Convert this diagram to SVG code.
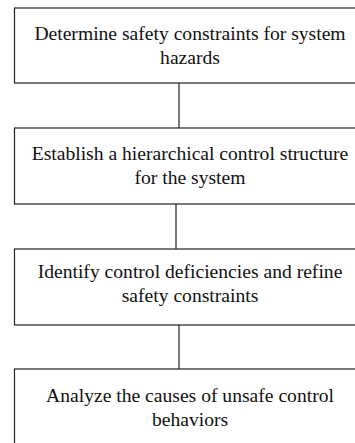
<svg xmlns="http://www.w3.org/2000/svg" width="355" height="443" viewBox="0 0 355 443">
<style>
.box{fill:#fff;stroke:#222;stroke-width:1.2}
.lbl{font-family:'Liberation Serif','Times New Roman',serif;font-size:19.6px;fill:#111;text-anchor:middle}
.con{stroke:#222;stroke-width:1.2;fill:none}
</style>
<rect width="355" height="443" fill="#fff"/>
<g id="connectors">
<line class="con" x1="179" y1="83" x2="179" y2="128"/>
<line class="con" x1="176" y1="204" x2="176" y2="249"/>
<line class="con" x1="179" y1="325" x2="179" y2="369"/>
</g>
<g id="n1">
<rect class="box" x="14.5" y="8" width="352" height="75"/>
<text class="lbl" x="190" y="40">Determine safety constraints for system</text>
<text class="lbl" x="190" y="64">hazards</text>
</g>
<g id="n2">
<rect class="box" x="14.5" y="128" width="352" height="76"/>
<text class="lbl" x="190" y="160">Establish a hierarchical control structure</text>
<text class="lbl" x="190" y="184">for the system</text>
</g>
<g id="n3">
<rect class="box" x="14.5" y="249" width="352" height="76"/>
<text class="lbl" x="190" y="278">Identify control deficiencies and refine</text>
<text class="lbl" x="190" y="302">safety constraints</text>
</g>
<g id="n4">
<rect class="box" x="14.5" y="369" width="352" height="80"/>
<text class="lbl" x="190" y="402">Analyze the causes of unsafe control</text>
<text class="lbl" x="190" y="426">behaviors</text>
</g>
</svg>
